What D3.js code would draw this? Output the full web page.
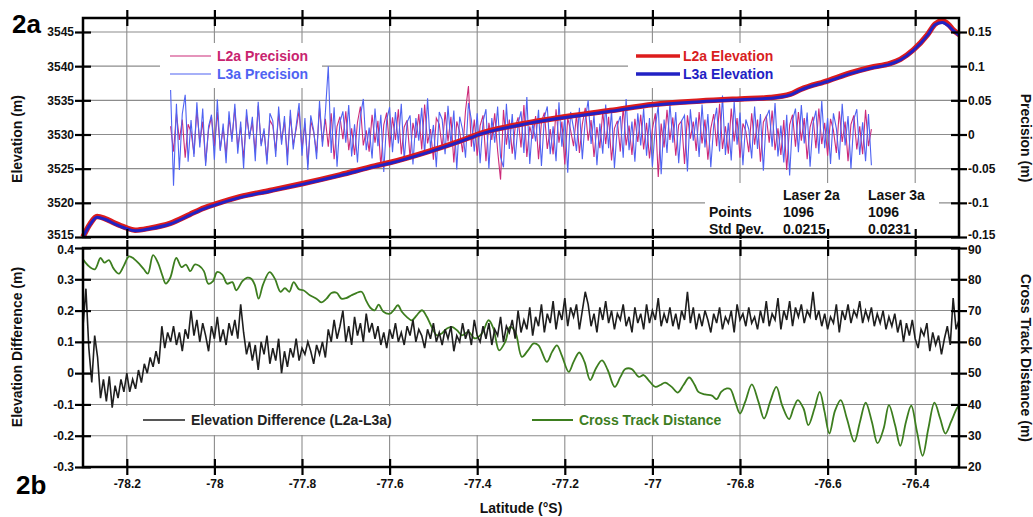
<!DOCTYPE html>
<html><head><meta charset="utf-8">
<script src="https://cdn.jsdelivr.net/npm/d3@7"></script>
<style>
body{margin:0;background:#fff;}
svg{display:block;font-family:"Liberation Sans",Arial,Helvetica,sans-serif;font-weight:bold;}
</style></head><body><svg id="c" width="1033" height="517"></svg>
<script>
// ---------------- DATA ----------------
const latTicks = [-78.2,-78,-77.8,-77.6,-77.4,-77.2,-77,-76.8,-76.6,-76.4];
const latTickLabels = ["-78.2","-78","-77.8","-77.6","-77.4","-77.2","-77","-76.8","-76.6","-76.4"];
const elevTicks = [3515,3520,3525,3530,3535,3540,3545];
const precTicks = [-0.15,-0.1,-0.05,0,0.05,0.1,0.15];
const precTickLabels = ["-0.15","-0.1","-0.05","0","0.05","0.1","0.15"];
const diffTicks = [-0.3,-0.2,-0.1,0,0.1,0.2,0.3,0.4];
const diffTickLabels = ["-0.3","-0.2","-0.1","0","0.1","0.2","0.3","0.4"];
const ctTicks = [20,30,40,50,60,70,80,90];

// Elevation profiles (m) vs latitude
const elevLat = [-78.300,-78.284,-78.268,-78.250,-78.227,-78.204,-78.181,-78.147,-78.101,-78.056,-78.033,-77.998,-77.941,-77.873,-77.800,-77.713,-77.633,-77.599,-77.507,-77.416,-77.400,-77.302,-77.199,-77.096,-76.998,-76.891,-76.799,-76.731,-76.685,-76.662,-76.598,-76.548,-76.502,-76.457,-76.434,-76.404,-76.372,-76.354,-76.338,-76.324,-76.313,-76.299];
const elevL2a = [3515.0,3516.9,3518.0,3517.7,3517.0,3516.4,3516.0,3516.3,3517.0,3518.3,3519.0,3519.8,3520.9,3521.8,3522.8,3524.1,3525.4,3525.9,3527.6,3529.6,3530.0,3531.5,3532.6,3533.5,3534.4,3534.9,3535.2,3535.4,3535.9,3536.6,3537.9,3539.0,3539.8,3540.4,3541.0,3542.4,3544.6,3546.2,3546.6,3546.1,3545.3,3544.6];
const elevL3a = [3515.0,3516.8,3517.9,3517.6,3516.9,3516.3,3515.9,3516.2,3516.9,3518.2,3518.9,3519.7,3520.8,3521.7,3522.7,3524.0,3525.3,3525.8,3527.5,3529.5,3529.9,3531.4,3532.5,3533.4,3534.3,3534.8,3535.1,3535.3,3535.8,3536.5,3537.8,3538.9,3539.7,3540.3,3540.9,3542.3,3544.5,3546.1,3546.4,3545.9,3545.2,3544.5];

// Precision series (m), sampled every 0.0066667 deg from -78.1
const precLatStart = -78.1;
const precLatStep = 0.0066667;
const precL2a = [
.012,-.025,.031,-.008,.022,-.034,.015,.004,-.028,.036,-.012,.019,-.041,.007,.026,-.017,.033,-.022,.009,-.03,
.024,-.006,.038,-.019,.011,-.035,.028,-.003,.017,-.026,.042,-.014,.005,-.038,.021,.013,-.024,.03,-.009,.019,
-.032,.027,-.015,.008,.035,-.021,.016,-.044,.02,.003,-.027,.039,-.011,.023,-.018,.031,-.036,.012,.026,-.007,
.034,-.023,.009,-.03,.018,.041,-.016,.006,-.025,.029,-.012,.02,-.047,.014,.032,-.019,.025,-.008,.037,-.029,
.011,.021,-.034,.017,-.005,.03,-.022,.044,-.013,.008,-.037,.024,.015,-.02,.033,-.01,.026,-.041,.019,.004,
-.026,.035,.071,-.018,.022,-.031,.013,.028,-.039,.017,-.008,.031,-.024,-.066,.036,-.015,.022,-.028,.01,.025,
-.019,.043,-.033,.012,-.006,.027,-.036,.018,.032,-.021,.008,-.029,.037,-.012,.019,-.044,.024,.006,-.017,.03,
-.027,.015,.039,-.009,.021,-.033,.011,-.02,.034,-.014,.026,-.038,.009,.02,-.025,.041,-.016,.013,-.03,.023,
-.011,.029,-.022,.017,-.035,.008,.031,-.062,.016,-.019,.036,-.008,.025,-.031,.014,.02,-.043,.028,-.006,.019,
-.024,.033,-.013,.022,-.037,.009,.03,-.017,.045,-.021,.012,-.028,.038,-.01,.024,-.034,.016,.005,-.026,.031,
-.015,.022,-.04,.018,.027,-.012,.035,-.023,.009,-.03,.021,-.052,.014,.029,-.018,.033,-.009,.024,-.036,.011,
.026,-.02,.038,-.014,.017,-.031,.023,.006,-.027,.034,-.011,.019,-.039,.015,.028,-.022,.012,-.029,.036,-.017,.008];
const precL3a = [
.065,-.075,.045,-.052,.03,.058,-.04,.021,-.033,.047,-.019,.038,-.046,.012,.029,-.037,.051,-.024,.016,-.042,
.034,-.011,.045,-.028,.019,-.05,.037,-.007,.026,-.039,.048,-.017,.009,-.044,.031,.02,-.033,.041,-.015,.027,
-.045,.036,-.022,.013,.046,-.031,.024,-.052,.028,.006,-.036,.049,-.018,.032,.1,-.027,.04,-.047,.018,.034,
-.012,.043,-.032,.015,-.041,.027,.052,-.023,.01,-.035,.038,-.017,.029,-.055,.021,.04,-.026,.033,-.013,.045,
-.038,.018,.028,-.044,.024,-.009,.039,-.03,.053,-.02,.014,-.048,.033,.022,-.029,.042,-.014,.035,-.051,.026,
.007,-.034,.046,.022,-.025,.031,-.042,.019,.037,-.05,.024,-.012,.041,-.033,-.048,.045,-.021,.03,-.037,.015,
.034,-.027,.055,-.043,.018,-.01,.036,-.046,.025,.041,-.029,.012,-.039,.047,-.018,.026,-.056,.033,.009,-.024,
.039,-.036,.022,.05,-.014,.029,-.045,.016,-.028,.044,-.02,.035,-.049,.013,.027,-.034,.052,-.023,.019,-.04,
.031,-.016,.038,-.031,.024,-.047,.012,.042,-.058,.022,-.027,.046,-.012,.033,-.042,.02,.028,-.054,.037,-.009,
.025,-.033,.044,-.019,.03,-.048,.014,.039,-.025,.057,-.03,.017,-.038,.048,-.015,.032,-.045,.022,.008,-.035,
.041,-.021,.03,-.053,.025,.036,-.018,.046,-.032,.013,-.041,.029,-.06,.021,.038,-.026,.043,-.013,.032,-.047,
.016,.035,-.028,.049,-.02,.024,-.043,.031,.009,-.037,.045,-.016,.027,-.05,.022,.037,-.03,.018,-.039,.03,-.045];

// Elevation difference L2a-L3a (m), sampled every 0.0066667 deg from -78.3
const diffLatStart = -78.3;
const diffLatStep = 0.0066667;
const elevDiff = [
.15,.27,.08,-.03,.12,.05,-.08,-.02,-.09,-.01,
-.11,-.04,-.08,-.02,-.06,0,-.06,-.02,-.05,.01,
-.03,.03,0,.05,.02,.07,.03,.15,.08,.13,
.1,.15,.09,.13,.07,.14,.11,.2,.12,.17,
.1,.16,.12,.07,.15,.11,.18,.1,.14,.09,
.16,.12,.17,.11,.22,.13,.06,.1,.04,.09,
.01,.1,.06,.12,.03,.08,.04,.11,0,.07,
.02,.08,.05,.11,.04,.08,.06,.1,.07,.03,
.09,.06,.1,.05,.14,.1,.17,.11,.15,.2,
.1,.15,.09,.18,.12,.16,.1,.19,.13,.16,
.11,.15,.09,.13,.08,.14,.11,.16,.1,.13,
.09,.15,.12,.17,.1,.14,.12,.08,.14,.11,
.16,.1,.13,.09,.14,.11,.15,.07,.12,.1,
.16,.11,.14,.09,.17,.12,.1,.15,.11,.16,
.09,.14,.12,.18,.1,.15,.13,.17,.11,.2,
.13,.17,.14,.21,.12,.18,.15,.22,.13,.19,
.16,.23,.14,.2,.17,.24,.15,.21,.18,.22,
.14,.2,.26,.22,.15,.19,.13,.21,.17,.23,
.16,.2,.14,.19,.17,.22,.15,.18,.13,.21,
.16,.19,.14,.22,.16,.2,.17,.24,.15,.19,
.16,.21,.15,.19,.14,.2,.17,.26,.16,.21,
.14,.19,.15,.2,.17,.13,.19,.16,.21,.14,
.18,.16,.2,.13,.22,.17,.19,.15,.21,.16,
.18,.14,.2,.16,.23,.15,.19,.17,.24,.14,
.2,.17,.23,.15,.21,.18,.22,.16,.2,.18,
.26,.17,.2,.15,.19,.14,.18,.16,.22,.13,
.2,.17,.22,.16,.2,.18,.23,.16,.2,.17,
.21,.15,.19,.16,.2,.14,.18,.15,.19,.13,
.17,.1,.16,.12,.17,.11,.08,.14,.12,.16,
.07,.13,.09,.12,.06,.11,.15,.09,.24,.14,.17];

// Cross track distance (m) vs latitude
const ctLat = [-78.300,-78.289,-78.273,-78.260,-78.251,-78.241,-78.230,-78.218,-78.207,-78.195,-78.184,-78.172,-78.161,-78.152,-78.140,-78.129,-78.119,-78.111,-78.101,-78.087,-78.075,-78.065,-78.055,-78.045,-78.035,-78.024,-78.014,-78.003,-77.994,-77.982,-77.971,-77.959,-77.950,-77.936,-77.925,-77.916,-77.908,-77.899,-77.889,-77.874,-77.862,-77.849,-77.839,-77.829,-77.819,-77.807,-77.797,-77.782,-77.767,-77.756,-77.744,-77.733,-77.721,-77.710,-77.699,-77.687,-77.676,-77.664,-77.653,-77.644,-77.634,
-77.625,-77.614,-77.599,-77.591,-77.581,-77.572,-77.561,-77.549,-77.538,-77.526,-77.515,-77.504,-77.492,-77.481,-77.469,-77.458,-77.446,-77.435,-77.420,-77.405,-77.389,-77.374,-77.363,-77.350,-77.336,-77.325,-77.313,-77.298,-77.284,-77.271,-77.260,-77.241,-77.229,-77.218,-77.207,-77.191,-77.180,-77.167,-77.155,-77.142,-77.129,-77.115,-77.102,-77.086,-77.073,-77.062,-77.047,-77.031,-77.020,-77.009,-76.993,-76.982,
-76.971,-76.956,-76.942,-76.929,-76.916,-76.904,-76.895,-76.880,-76.864,-76.853,-76.843,-76.830,-76.822,-76.811,-76.800,-76.788,-76.773,-76.758,-76.745,-76.731,-76.717,-76.704,-76.688,-76.678,-76.668,-76.655,-76.644,-76.630,-76.618,-76.607,-76.596,-76.583,-76.570,-76.556,-76.539,-76.526,-76.513,-76.499,-76.486,-76.472,-76.460,-76.446,-76.434,-76.421,-76.409,-76.396,-76.383,-76.370,-76.356,-76.343,-76.331,-76.318,-76.305,-76.299];
const ctVal = [86.4,84.5,83.2,86.8,85.3,86.1,83.4,81.8,84.3,87.3,86.6,85.0,83.2,81.8,87.7,85.3,81.3,78.6,80.4,86.8,83.9,84.7,82.6,84.7,84.3,82.6,78.6,79.4,82.3,81.5,78.6,79.1,76.5,79.4,80.5,80.2,78.3,73.8,78.3,82.3,80.2,76.0,77.2,76.0,79.1,76.8,76.5,74.9,73.8,72.6,73.8,75.6,75.7,73.8,74.0,74.9,75.6,76.0,73.0,70.9,70.1,
71.9,69.6,69.0,70.1,71.7,69.6,68.0,66.9,68.5,70.1,68.0,64.8,62.1,62.7,64.3,64.8,63.7,62.1,63.2,61.1,62.7,66.9,64.3,57.3,60.0,64.8,63.2,55.2,57.3,59.5,58.9,53.6,56.8,58.9,55.7,50.4,53.6,56.6,53.6,47.8,51.5,54.1,51.0,45.6,48.8,51.3,51.3,48.8,49.4,47.8,45.6,46.2,
47.0,45.6,43.8,46.2,48.6,46.4,44.0,43.2,42.8,41.7,44.0,45.1,44.9,40.9,37.1,40.9,46.4,40.9,35.5,40.9,45.6,39.8,35.3,38.7,41.4,38.7,33.4,38.7,44.0,37.7,30.7,38.0,41.4,35.5,28.1,34.5,40.6,34.5,27.6,32.3,39.8,33.4,26.8,34.5,39.6,31.3,23.6,32.3,40.6,35.5,30.7,34.5,38.7,39.8];

// ---------------- CHART ----------------
const svg = d3.select("#c");
const L = 83, R = 959, T1 = 18, B1 = 237, T2 = 248, B2 = 467;
const x  = d3.scaleLinear().domain([-78.3,-76.3]).range([L,R]);
const yE = d3.scaleLinear().domain([3515,3545]).range([237,32]);
const yP = d3.scaleLinear().domain([-0.15,0.15]).range([237,32]);
const yD = d3.scaleLinear().domain([-0.3,0.4]).range([467,248]);
const yC = d3.scaleLinear().domain([20,90]).range([467,248]);

// grid
const grid = svg.append("g").attr("stroke","#8c8c8c").attr("stroke-width",1.1).attr("fill","none");
latTicks.forEach(v => {
  grid.append("line").attr("x1",x(v)).attr("x2",x(v)).attr("y1",T1).attr("y2",B1);
  grid.append("line").attr("x1",x(v)).attr("x2",x(v)).attr("y1",T2).attr("y2",B2);
});
elevTicks.forEach(v => grid.append("line").attr("x1",L).attr("x2",R).attr("y1",yE(v)).attr("y2",yE(v)));
diffTicks.forEach(v => grid.append("line").attr("x1",L).attr("x2",R).attr("y1",yD(v)).attr("y2",yD(v)));

// white boxes behind legends / table
const boxes = [[160,43,162,45],[628,43,162,45],[705,183,234,54],[95,406,640,29]];
boxes.forEach(b => svg.append("rect").attr("x",b[0]).attr("y",b[1]).attr("width",b[2]).attr("height",b[3]).attr("fill","#fff"));

// top panel series
const precLine = d3.line().x((d,i)=>x(precLatStart + i*precLatStep)).y(d=>yP(d));
svg.append("path").datum(precL2a).attr("d",precLine).attr("fill","none").attr("stroke","#cc2a78").attr("stroke-width",1.1);
svg.append("path").datum(precL3a).attr("d",precLine).attr("fill","none").attr("stroke","#4f63f2").attr("stroke-width",1.1);

const elevLine = d3.line().x((d,i)=>x(elevLat[i])).y(d=>yE(d)).curve(d3.curveMonotoneX);
svg.append("path").datum(elevL2a).attr("d",elevLine).attr("fill","none").attr("stroke","#dd1c1c").attr("stroke-width",5.5);
svg.append("path").datum(elevL3a).attr("d",elevLine).attr("fill","none").attr("stroke","#2222c4").attr("stroke-width",3);

// bottom panel series
const ctLine = d3.line().x((d,i)=>x(ctLat[i])).y(d=>yC(d)).curve(d3.curveCatmullRom);
svg.append("path").datum(ctVal).attr("d",ctLine).attr("fill","none").attr("stroke","#3d7e1f").attr("stroke-width",1.8);
const diffLine = d3.line().x((d,i)=>x(diffLatStart + i*diffLatStep)).y(d=>yD(d));
svg.append("path").datum(elevDiff).attr("d",diffLine).attr("fill","none").attr("stroke","#1e1e1e").attr("stroke-width",1.6);

// frames
[[T1,B1],[T2,B2]].forEach(p => svg.append("rect").attr("x",L).attr("y",p[0]).attr("width",R-L).attr("height",p[1]-p[0]).attr("fill","none").attr("stroke","#000").attr("stroke-width",2.5));

// axes
function styleAxis(g, size){
  g.select(".domain").remove();
  g.selectAll(".tick line").attr("stroke","#000").attr("stroke-width",2.2);
  g.selectAll(".tick text").attr("font-family","Liberation Sans, Arial, sans-serif").attr("font-weight","bold").attr("font-size",size||12).attr("fill","#111");
}
function nudge(g, val, dy){
  g.selectAll(".tick").filter(d => Math.abs(d - val) < 1e-9).select("text").attr("transform",`translate(0,${dy})`);
}
svg.append("g").attr("transform",`translate(${L+8},0)`)
  .call(d3.axisLeft(yE).tickValues(elevTicks).tickSize(16).tickPadding(1).tickFormat(d3.format("d"))).call(styleAxis).call(g=>nudge(g,3515,-2));
svg.append("g").attr("transform",`translate(${R-8},0)`)
  .call(d3.axisRight(yP).tickValues(precTicks).tickSize(16).tickPadding(1).tickFormat((d,i)=>precTickLabels[i])).call(styleAxis).call(g=>nudge(g,-0.15,-2));
svg.append("g").attr("transform",`translate(${L+8},0)`)
  .call(d3.axisLeft(yD).tickValues(diffTicks).tickSize(16).tickPadding(1).tickFormat((d,i)=>diffTickLabels[i])).call(styleAxis).call(g=>nudge(g,0.4,2));
svg.append("g").attr("transform",`translate(${R-8},0)`)
  .call(d3.axisRight(yC).tickValues(ctTicks).tickSize(16).tickPadding(1).tickFormat(d3.format("d"))).call(styleAxis).call(g=>nudge(g,90,2));
svg.append("g").attr("transform",`translate(0,${T1+8})`)
  .call(d3.axisTop(x).tickValues(latTicks).tickSize(16).tickFormat("")).call(styleAxis);
svg.append("g").attr("transform",`translate(0,${T2+8})`)
  .call(d3.axisTop(x).tickValues(latTicks).tickSize(16).tickFormat("")).call(styleAxis);
svg.append("g").attr("transform",`translate(0,${B1-8})`)
  .call(d3.axisBottom(x).tickValues(latTicks).tickSize(10).tickFormat("")).call(styleAxis);
svg.append("g").attr("transform",`translate(0,${B2-8})`)
  .call(d3.axisBottom(x).tickValues(latTicks).tickSize(16).tickPadding(4).tickFormat((d,i)=>latTickLabels[i])).call(styleAxis);

// titles
function txt(t,xx,yy,opt){
  const e = svg.append("text").attr("x",xx).attr("y",yy).text(t)
    .attr("font-size",opt.size||14).attr("fill",opt.fill||"#111").attr("text-anchor",opt.anchor||"start");
  if(opt.rot) e.attr("transform",`rotate(${opt.rot},${xx},${yy})`).attr("dominant-baseline","middle");
  return e;
}
txt("2a",12,33,{size:26,fill:"#000"});
txt("2b",16,494,{size:26,fill:"#000"});
txt("Elevation (m)",18,139,{rot:-90,anchor:"middle"});
txt("Precision (m)",1025,138,{rot:90,anchor:"middle"});
txt("Elevation Difference (m)",18,347,{rot:-90,anchor:"middle"});
txt("Cross Track Distance (m)",1025,358,{rot:90,anchor:"middle"});
txt("Latitude (°S)",521,513,{anchor:"middle"});

// legends top
function legLine(x1,x2,yy,col,w){ svg.append("line").attr("x1",x1).attr("x2",x2).attr("y1",yy).attr("y2",yy).attr("stroke",col).attr("stroke-width",w); }
legLine(170,211,56,"#cc2a78",1.2); txt("L2a Precision",217,61,{fill:"#c8246f"});
legLine(170,211,74,"#4f63f2",1.2); txt("L3a Precision",217,79,{fill:"#4f63f2"});
legLine(636,680,56,"#dd1c1c",3.5); txt("L2a Elevation",683,61,{fill:"#d81e1e"});
legLine(636,680,74,"#2222c4",3.5); txt("L3a Elevation",683,79,{fill:"#2222c4"});

// stats table
txt("Laser 2a",783,200,{}); txt("Laser 3a",868,200,{});
txt("Points",709,217,{}); txt("1096",783,217,{}); txt("1096",868,217,{});
txt("Std Dev.",709,234,{}); txt("0.0215",783,234,{}); txt("0.0231",868,234,{});

// bottom legend
legLine(143,185,420,"#1e1e1e",1.5); txt("Elevation Difference (L2a-L3a)",191,425,{fill:"#222"});
legLine(532,573,420,"#3d7e1f",1.8); txt("Cross Track Distance",579,425,{fill:"#3d7e1f"});
</script></body></html>
